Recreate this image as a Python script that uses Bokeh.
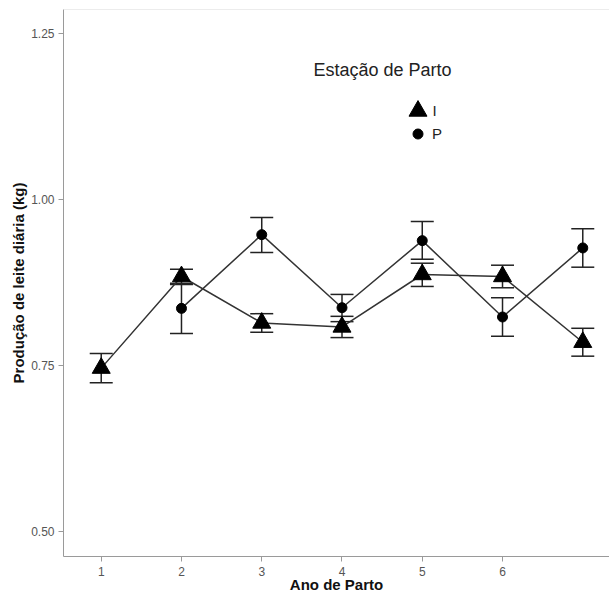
from bokeh.plotting import figure
from bokeh.models import (ColumnDataSource, Whisker, TeeHead, Legend, LegendItem,
                          Label, Span, FixedTicker, NumeralTickFormatter, Range1d)
from bokeh.embed import file_html
from bokeh.resources import INLINE

# ---- data ----
anos_I = [1, 2, 3, 4, 5, 6, 7]
media_I = [0.746, 0.884, 0.814, 0.808, 0.887, 0.884, 0.785]
inf_I = [0.724, 0.872, 0.800, 0.792, 0.869, 0.867, 0.764]
sup_I = [0.768, 0.895, 0.828, 0.824, 0.904, 0.901, 0.806]

anos_P = [2, 3, 4, 5, 6, 7]
media_P = [0.836, 0.947, 0.837, 0.938, 0.823, 0.927]
inf_P = [0.798, 0.920, 0.816, 0.910, 0.794, 0.898]
sup_P = [0.874, 0.973, 0.857, 0.967, 0.852, 0.956]

x_ticks = [1, 2, 3, 4, 5, 6]
y_ticks = [0.50, 0.75, 1.00, 1.25]

FONT = "Liberation Sans"

src_I = ColumnDataSource(dict(x=anos_I, y=media_I, inf=inf_I, sup=sup_I))
src_P = ColumnDataSource(dict(x=anos_P, y=media_P, inf=inf_P, sup=sup_P))

p = figure(width=609, height=595,
           x_range=Range1d(0.53, 7.333), y_range=Range1d(0.4623, 1.2861),
           output_backend="svg", toolbar_location=None,
           min_border_left=63, min_border_right=0, min_border_top=9, min_border_bottom=39)
p.outline_line_color = None
p.grid.visible = False
p.background_fill_color = "white"
p.border_fill_color = "white"

p.xaxis.ticker = FixedTicker(ticks=x_ticks)
p.yaxis.ticker = FixedTicker(ticks=y_ticks)
p.yaxis.formatter = NumeralTickFormatter(format="0.00")
p.xaxis.axis_label = "Ano de Parto"
p.yaxis.axis_label = "Produção de leite diária (kg)"

for ax in (p.xaxis[0], p.yaxis[0]):
    ax.axis_line_color = "#9a9a9a"
    ax.major_tick_line_color = "#9a9a9a"
    ax.major_tick_out = 5
    ax.major_tick_in = 0
    ax.minor_tick_line_color = None
    ax.major_label_text_font = FONT
    ax.major_label_text_font_size = "12px"
    ax.major_label_text_color = "#555555"
    ax.axis_label_text_font = FONT
    ax.axis_label_text_font_style = "bold"
    ax.axis_label_text_font_size = "15px"
    ax.axis_label_text_color = "#111111"

p.yaxis.major_label_standoff = 4
p.yaxis.axis_label_standoff = 1
p.xaxis.major_label_standoff = 5
p.xaxis.axis_label_standoff = -3

p.add_layout(Span(location=p.y_range.end, dimension="width",
                  line_color="#d9d9d9", line_width=1))

# connecting lines
p.line("x", "y", source=src_I, line_color="#333333", line_width=1.5)
p.line("x", "y", source=src_P, line_color="#333333", line_width=1.5)

# error bars
for src in (src_I, src_P):
    w = Whisker(source=src, base="x", lower="inf", upper="sup",
                line_color="#222222", line_width=1.5,
                upper_head=TeeHead(size=23, line_color="#222222", line_width=1.5),
                lower_head=TeeHead(size=23, line_color="#222222", line_width=1.5))
    p.add_layout(w)

r_I = p.scatter("x", "y", source=src_I, marker="triangle", size=18,
                fill_color="black", line_color="black")
r_P = p.scatter("x", "y", source=src_P, marker="circle", size=10,
                fill_color="black", line_color="black")

leg_common = dict(padding=0, margin=0, spacing=0, border_line_color=None,
                  background_fill_alpha=0, label_text_font=FONT,
                  label_text_font_size="15px", label_text_color="#222222")
# triangle key (its label is drawn separately, closer to the key)
leg1 = Legend(items=[LegendItem(label=" ", renderers=[r_I])], location=(332, 423),
              glyph_width=45, glyph_height=45, label_standoff=0, **leg_common)
leg2 = Legend(items=[LegendItem(label="P", renderers=[r_P])], location=(342, 410),
              glyph_width=25, glyph_height=25, label_standoff=2, **leg_common)
p.add_layout(leg1)
p.add_layout(leg2)

p.add_layout(Label(x=369, y=446, x_units="screen", y_units="screen",
                   text="I", text_align="left", text_baseline="middle",
                   text_font=FONT, text_font_size="15px", text_color="#222222"))

p.add_layout(Label(x=319, y=487, x_units="screen", y_units="screen",
                   text="Estação de Parto", text_align="center", text_baseline="middle",
                   text_font=FONT, text_font_size="18px", text_color="#222222"))

open("out.html", "w").write(file_html(p, INLINE))
